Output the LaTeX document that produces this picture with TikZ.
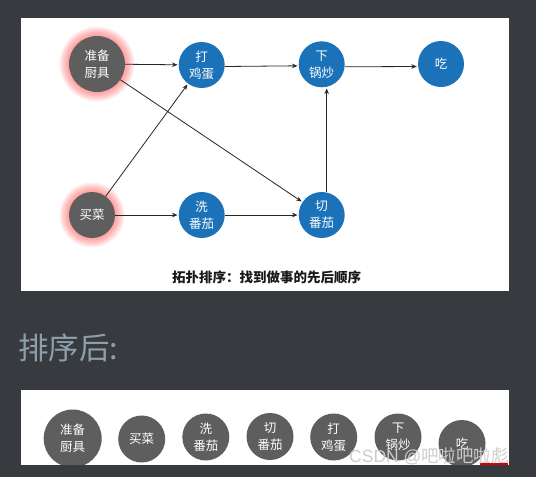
\documentclass[tikz,border=0pt]{standalone}
\usepackage{fontspec}
\newfontfamily\cjk{Noto Sans CJK SC}
\newfontfamily\wmlatin{Liberation Sans}
\usetikzlibrary{arrows.meta}
\definecolor{bgdark}{HTML}{373B40}
\definecolor{nodegray}{HTML}{5E5E5E}
\definecolor{nodeblue}{HTML}{1B72B8}
\definecolor{headgray}{HTML}{8E9EAA}
\definecolor{glowred}{HTML}{FF5050}
\begin{document}
\begin{tikzpicture}[x=1pt,y=-1pt,
  nodetext/.style={text=white, align=center, inner sep=0pt,
    font=\cjk\fontsize{12.5}{17}\selectfont},
  gnode/.style={circle, fill=nodegray, nodetext},
  bnode/.style={circle, fill=nodeblue, nodetext, minimum size=46pt},
  arr/.style={-{Stealth[length=5.5pt,width=4.5pt]}, line width=0.8pt, draw=black!85, shorten >=1pt}]
\fill[bgdark] (0,0) rectangle (536,477);
\useasboundingbox (0,0) rectangle (536,477);
\fill[white] (21,18) rectangle (509,291);
% glows
\coordinate (czb) at (97,64);
\coordinate (cmc) at (92,215);
\foreach \k in {1,...,10}{
  \fill[glowred, opacity=0.07] (czb) circle[radius=27.5pt+\k pt];
  \fill[glowred, opacity=0.07] (cmc) circle[radius=22.5pt+\k pt];
}
% nodes
\node[gnode, minimum size=56pt] (zb) at (czb) {准备\\厨具};
\node[gnode, minimum size=46pt] (mc) at (cmc) {买菜};
\node[bnode] (dj) at (201.7,65) {打\\鸡蛋};
\node[bnode] (xg) at (321.7,64.3) {下\\锅炒};
\node[bnode] (chi) at (441,64) {吃};
\node[bnode] (xf) at (201.7,215) {洗\\番茄};
\node[bnode] (qf) at (321.7,215) {切\\番茄};
% edges
\draw[arr] (zb) -- (dj);
\draw[arr] ([yshift=-1.5pt]dj.east) -- ([yshift=-1.5pt]xg.west);
\draw[arr] ([yshift=-2.5pt]xg.east) -- ([yshift=-2.5pt]chi.west);
\draw[arr] (zb) -- (qf);
\draw[arr] (mc) -- (dj);
\draw[arr] (mc) -- (xf);
\draw[arr] (xf) -- (qf);
\draw[arr] ([xshift=5pt]qf.north) -- ([xshift=5pt]xg.south);
\node[font=\cjk\bfseries\fontsize{13.5}{16}\selectfont, text=black!90] (cap) at (266.7,277) {拓扑排序：找到做事的先后顺序};
% sorted part
\node[anchor=west, text=headgray, inner sep=0pt, font=\cjk\fontsize{30.5}{34}\selectfont] (hd) at (18,348) {排序后:};
\fill[white] (20.5,390) rectangle (509,464.5);
\begin{scope}
\clip (20.5,390) rectangle (509,464.5);
\node[gnode, minimum size=58pt] (s1) at (72.7,438.5) {准备\\厨具};
\node[gnode, minimum size=47pt] (s2) at (141.7,439) {买菜};
\node[gnode, minimum size=47pt] (s3) at (205.8,437) {洗\\番茄};
\node[gnode, minimum size=47pt] (s4) at (270,436.5) {切\\番茄};
\node[gnode, minimum size=47pt] (s5) at (333.7,437) {打\\鸡蛋};
\node[gnode, minimum size=47pt] (s6) at (398,437) {下\\锅炒};
\node[gnode, minimum size=47pt] (s7) at (462,443.5) {吃};
\end{scope}
\fill[red!85!black] (480,463) rectangle (508,465);
\node[anchor=west, inner sep=0pt, text=white!80!black, font=\cjk\fontsize{17.5}{20}\selectfont] (wm) at (349,456) {{\wmlatin CSDN @}吧啦吧啦彪};
\end{tikzpicture}
\end{document}
